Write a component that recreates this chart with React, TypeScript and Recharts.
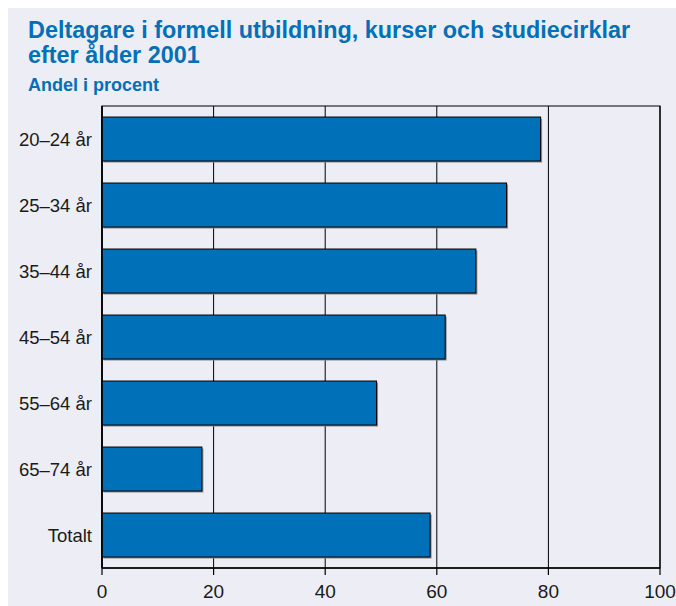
import { BarChart, Bar, XAxis, YAxis, CartesianGrid, ReferenceArea } from 'recharts'

const ageGroups = ['20–24 år', '25–34 år', '35–44 år', '45–54 år', '55–64 år', '65–74 år', 'Totalt']
const shares = [78.6, 72.5, 67.0, 61.5, 49.2, 17.9, 58.8]
const xTicks = [0, 20, 40, 60, 80, 100]

const BLUE = '#0070B8'
const BG = '#EDEDF5'

const chartData = ageGroups.map((name, i) => ({ name, value: shares[i] }))

// bar with a small grey drop shadow like the original
const ShadowBar = (props: any) => {
  const { x, y, width, height } = props
  if (!width || width <= 0) return null
  return (
    <g>
      <rect x={x + 1.5} y={y + 1.5} width={width} height={height} fill="#8a8a90" />
      <rect x={x} y={y} width={width} height={height} fill={BLUE} stroke="#000" strokeWidth={1} />
    </g>
  )
}

export default function App() {
  return (
    <div
      style={{
        position: 'fixed',
        left: 8,
        top: 8,
        width: 668,
        height: 598,
        background: BG,
        fontFamily: '"Liberation Sans", Arial, sans-serif',
        overflow: 'hidden',
      }}
    >
      <div
        style={{
          position: 'absolute',
          left: 20,
          top: 9,
          color: BLUE,
          fontWeight: 'bold',
          fontSize: 24,
          lineHeight: '25px',
          transform: 'scaleX(0.975)',
          transformOrigin: 'left top',
          whiteSpace: 'nowrap',
        }}
      >
        Deltagare i formell utbildning, kurser och studiecirklar
        <br />
        efter ålder 2001
      </div>
      <div
        style={{
          position: 'absolute',
          left: 20,
          top: 67,
          color: BLUE,
          fontWeight: 'bold',
          fontSize: 18,
          lineHeight: '20px',
          whiteSpace: 'nowrap',
        }}
      >
        Andel i procent
      </div>
      <div style={{ position: 'absolute', left: 0, top: 0 }}>
        <BarChart
          width={668}
          height={598}
          data={chartData}
          layout="vertical"
          margin={{ top: 98, right: 16, bottom: 6, left: 0 }}
          barCategoryGap="16.7%"
        >
          <CartesianGrid horizontal={false} stroke="#000" strokeOpacity={1} />
          <ReferenceArea x1={0} x2={100} fill="none" stroke="#000" strokeWidth={1.2} ifOverflow="visible" />
          <XAxis
            type="number"
            domain={[0, 100]}
            ticks={xTicks}
            axisLine={{ stroke: '#000', strokeWidth: 1.5 }}
            tickLine={{ stroke: '#000', strokeWidth: 1.2 }}
            tickSize={7}
            tickMargin={10}
            tick={{ fill: '#1a1a1a', fontSize: 19 }}
            height={32}
          />
          <YAxis
            type="category"
            dataKey="name"
            width={94}
            axisLine={{ stroke: '#000', strokeWidth: 1.5 }}
            tickLine={false}
            tickMargin={4}
            tick={{ fill: '#1a1a1a', fontSize: 18.5 }}
          />
          <Bar dataKey="value" shape={ShadowBar} isAnimationActive={false} />
        </BarChart>
      </div>
    </div>
  )
}
